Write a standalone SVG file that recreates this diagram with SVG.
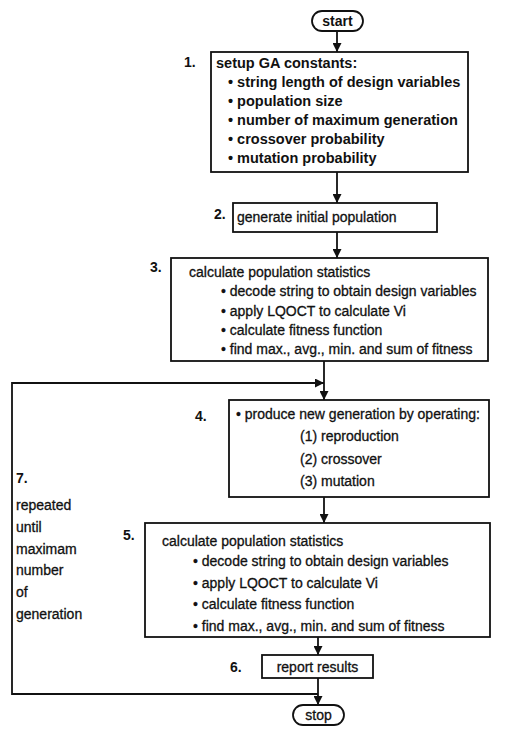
<svg xmlns="http://www.w3.org/2000/svg" width="531" height="744" viewBox="0 0 531 744">
<defs>
<marker id="ah" viewBox="0 0 8 8" refX="8" refY="4" markerWidth="5" markerHeight="5" orient="auto">
<path d="M0,0 L8,4 L0,8 z" fill="#111"/>
</marker>
<style>
.box{fill:#fff;stroke:#111;stroke-width:1.8}
.t{font-family:"Liberation Sans",Arial,sans-serif;font-size:14px;fill:#111;stroke:#111;stroke-width:0.3}
.b{font-weight:bold;stroke-width:0}
.b1{font-size:14.5px}
.c{stroke:#111;stroke-width:1.8;fill:none}
</style>
</defs>
<rect width="531" height="744" fill="#fff"/>
<g id="connectors">
<line class="c" x1="337" y1="31" x2="337" y2="52" marker-end="url(#ah)"/>
<line class="c" x1="337" y1="172" x2="337" y2="203" marker-end="url(#ah)"/>
<line class="c" x1="337" y1="232" x2="337" y2="258" marker-end="url(#ah)"/>
<line class="c" x1="324" y1="361" x2="324" y2="400" marker-end="url(#ah)"/>
<polyline class="c" points="318,694 12,694 12,383 324,383" marker-end="url(#ah)"/>
<line class="c" x1="324" y1="497" x2="324" y2="523" marker-end="url(#ah)"/>
<line class="c" x1="318" y1="637" x2="318" y2="655" marker-end="url(#ah)"/>
<line class="c" x1="318" y1="678" x2="318" y2="705" marker-end="url(#ah)"/>
</g>
<g id="start">
<rect class="box" x="312" y="11" width="51" height="20" rx="10"/>
<text class="t b" x="337.5" y="26" text-anchor="middle">start</text>
</g>
<g id="step1">
<text class="t b" x="184" y="67">1.</text>
<rect class="box" x="211" y="52" width="257" height="120"/>
<text class="t b b1" x="216" y="68">setup GA constants:</text>
<text class="t b b1" x="228" y="87">• string length of design variables</text>
<text class="t b b1" x="228" y="106">• population size</text>
<text class="t b b1" x="228" y="125">• number of maximum generation</text>
<text class="t b b1" x="228" y="144">• crossover probability</text>
<text class="t b b1" x="228" y="163">• mutation probability</text>
</g>
<g id="step2">
<text class="t b" x="214" y="219">2.</text>
<rect class="box" x="233" y="203" width="204" height="29"/>
<text class="t" x="237" y="222">generate initial population</text>
</g>
<g id="step3">
<text class="t b" x="150" y="272">3.</text>
<rect class="box" x="171" y="258" width="317" height="103"/>
<text class="t" x="189" y="277">calculate population statistics</text>
<text class="t" x="221" y="296">• decode string to obtain design variables</text>
<text class="t" x="221" y="316">• apply LQOCT to calculate Vi</text>
<text class="t" x="221" y="335">• calculate fitness function</text>
<text class="t" x="221" y="354">• find max., avg., min. and sum of fitness</text>
</g>
<g id="step4">
<text class="t b" x="195" y="421">4.</text>
<rect class="box" x="229" y="400" width="260" height="97"/>
<text class="t" x="236" y="419">• produce new generation by operating:</text>
<text class="t" x="300" y="441">(1) reproduction</text>
<text class="t" x="300" y="464">(2) crossover</text>
<text class="t" x="300" y="486">(3) mutation</text>
</g>
<g id="step5">
<text class="t b" x="123" y="540">5.</text>
<rect class="box" x="145" y="523" width="345" height="114"/>
<text class="t" x="162" y="546">calculate population statistics</text>
<text class="t" x="193" y="566">• decode string to obtain design variables</text>
<text class="t" x="193" y="588">• apply LQOCT to calculate Vi</text>
<text class="t" x="193" y="609">• calculate fitness function</text>
<text class="t" x="193" y="631">• find max., avg., min. and sum of fitness</text>
</g>
<g id="step6">
<text class="t b" x="230" y="672">6.</text>
<rect class="box" x="262" y="655" width="111" height="23"/>
<text class="t" x="317.5" y="672" text-anchor="middle">report  results</text>
</g>
<g id="stop">
<rect class="box" x="293" y="705" width="51" height="20" rx="10"/>
<text class="t" x="318.5" y="720" text-anchor="middle">stop</text>
</g>
<g id="note7">
<text class="t b" x="16" y="483">7.</text>
<text class="t" x="16" y="510">repeated</text>
<text class="t" x="16" y="532">until</text>
<text class="t" x="16" y="554">maximam</text>
<text class="t" x="16" y="575">number</text>
<text class="t" x="16" y="597">of</text>
<text class="t" x="16" y="619">generation</text>
</g>
</svg>
